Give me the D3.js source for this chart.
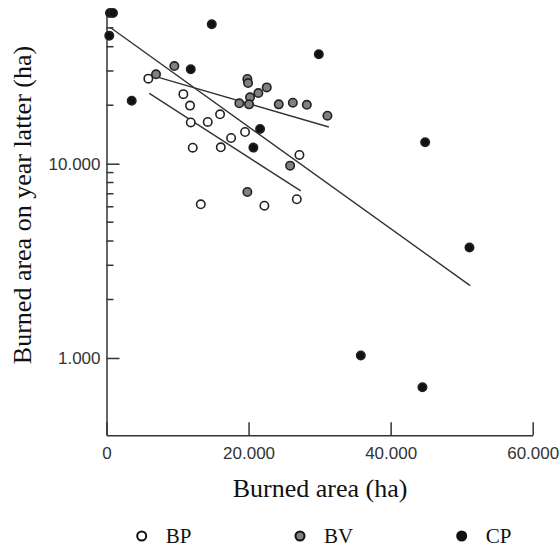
<!DOCTYPE html>
<html>
<head>
<meta charset="utf-8">
<script src="https://cdn.jsdelivr.net/npm/d3@7"></script>
<style>
  body { margin: 0; background: #fff; }
  .tick text { font-family: "Liberation Sans", Arial, sans-serif; font-size: 17px; fill: #333; }
  .title { font-family: "Liberation Serif", "Times New Roman", serif; fill: #111; }
</style>
</head>
<body>
<div id="chart"></div>
<script>
// burned area (ha) vs burned area on year latter (ha)
var bpX = [5890, 10820, 11760, 11860, 14250, 15990, 19510, 17540, 12140, 16090, 27160, 13270, 22230, 26790];
var bpY = [27400, 22800, 19900, 16300, 16400, 17960, 14560, 13560, 12090, 12140, 11090, 6180, 6080, 6560];

var bvX = [6970, 9550, 19830, 19930, 20210, 21380, 22560, 18700, 20070, 24250, 26230, 28200, 31100, 25850, 19830];
var bvY = [28850, 31800, 27300, 26000, 21960, 23100, 24700, 20450, 20200, 20200, 20600, 20100, 17660, 9770, 7150];

var cpX = [490, 915, 390, 14820, 11860, 3550, 29890, 21620, 20680, 44860, 51100, 35800, 44480];
var cpY = [59650, 59650, 45600, 52200, 30600, 21100, 36600, 15100, 12100, 12900, 3700, 1030, 707];

// fitted lines, start and end
var bpFitX = [6030, 27350], bpFitY = [23000, 7240];
var bvFitX = [7070, 31300], bvFitY = [28000, 15440];
var cpFitX = [490, 51200], cpFitY = [50350, 2356];

var xTicks = [0, 20000, 40000, 60000];
var yTicks = [1000, 10000];
var yMinor = [2000, 3000, 4000, 5000, 6000, 7000, 8000, 9000, 20000, 30000, 40000, 50000];

var width = 560, height = 550;

var svg = d3.select("#chart").append("svg")
    .attr("width", width)
    .attr("height", height);

var x = d3.scaleLinear().domain([0, 60000]).range([106.5, 532.7]);
var y = d3.scaleLog().domain([400, 60000]).range([435.3, 12.5]);

var fmt = function(d){ return d3.format(",")(d).replace(/,/g, "."); };

//
// axes
//
var gx = svg.append("g")
    .attr("transform", "translate(0," + y(400) + ")")
    .call(d3.axisBottom(x).tickValues(xTicks).tickSize(-13).tickSizeOuter(0).tickPadding(12).tickFormat(fmt));

var gy = svg.append("g")
    .attr("transform", "translate(" + x(0) + ",0)")
    .call(d3.axisLeft(y).tickValues(yTicks).tickSize(-13).tickSizeOuter(0).tickPadding(6).tickFormat(fmt));

gy.selectAll(".minor")
    .data(yMinor)
    .enter().append("line")
    .attr("class", "minor")
    .attr("x1", 0)
    .attr("x2", 7)
    .attr("y1", function(d){ return y(d); })
    .attr("y2", function(d){ return y(d); })
    .attr("stroke", "#333")
    .attr("stroke-width", 1.5);

svg.selectAll(".domain, .tick line")
    .attr("stroke", "#333")
    .attr("stroke-width", 1.5);

//
// regression lines
//
var line = d3.line()
    .x(function(d){ return x(d[0]); })
    .y(function(d){ return y(d[1]); });

[[bpFitX, bpFitY], [bvFitX, bvFitY], [cpFitX, cpFitY]].forEach(function(f){
  svg.append("path")
    .attr("d", line(d3.zip(f[0], f[1])))
    .attr("fill", "none")
    .attr("stroke", "#333")
    .attr("stroke-width", 1.4);
});

//
// points
//
var series = [
  {name: "BP", xs: bpX, ys: bpY, fill: "#fff", lx: 141.7},
  {name: "BV", xs: bvX, ys: bvY, fill: "#808080", lx: 300},
  {name: "CP", xs: cpX, ys: cpY, fill: "#111", lx: 461.7}
];

series.forEach(function(s){
  svg.append("g").selectAll("circle")
    .data(d3.zip(s.xs, s.ys))
    .enter().append("circle")
    .attr("cx", function(d){ return x(d[0]); })
    .attr("cy", function(d){ return y(d[1]); })
    .attr("r", 4.2)
    .attr("fill", s.fill)
    .attr("stroke", "#222")
    .attr("stroke-width", 1.6);
});

//
// titles
//
svg.append("text")
    .attr("class", "title")
    .attr("x", 320)
    .attr("y", 497)
    .attr("text-anchor", "middle")
    .attr("font-size", "26px")
    .text("Burned area (ha)");

svg.append("text")
    .attr("class", "title")
    .attr("transform", "translate(31,205) rotate(-90)")
    .attr("text-anchor", "middle")
    .attr("font-size", "26px")
    .text("Burned area on year latter (ha)");

//
// legend
//
var leg = svg.append("g");
series.forEach(function(s){
  leg.append("circle")
    .attr("cx", s.lx)
    .attr("cy", 536)
    .attr("r", 4.5)
    .attr("fill", s.fill)
    .attr("stroke", "#111")
    .attr("stroke-width", 2);
  leg.append("text")
    .attr("class", "title")
    .attr("x", s.lx + 24)
    .attr("y", 543)
    .attr("font-size", "21px")
    .text(s.name);
});
</script>
</body>
</html>
